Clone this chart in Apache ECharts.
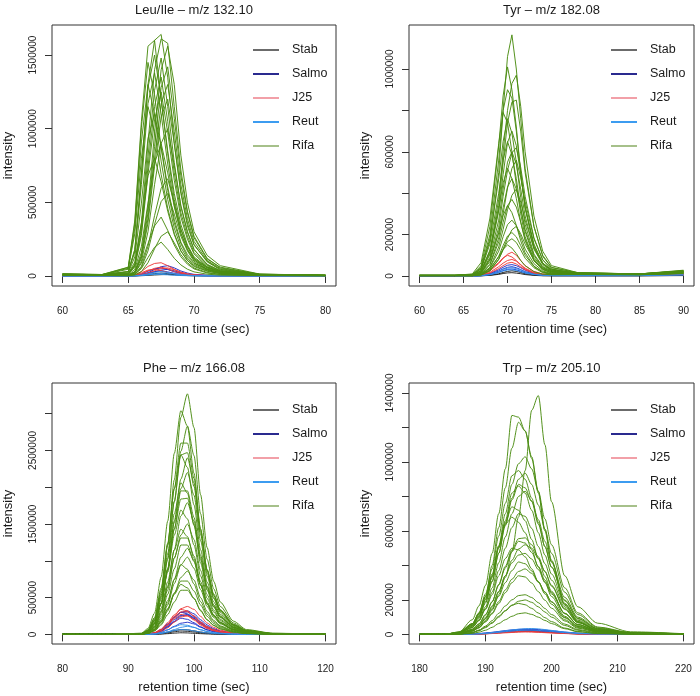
<!DOCTYPE html>
<html><head><meta charset="utf-8">
<script src="https://cdn.jsdelivr.net/npm/echarts@6/dist/echarts.min.js"></script>
<style>html,body{margin:0;padding:0;background:#fff}#chart{width:700px;height:696px}</style>
</head><body><div id="chart"></div>
<script>
// All intensity arrays are given in thousands of counts.
const UNIT = 1000;
const groupNames = ['Stab', 'Salmo', 'J25', 'Reut', 'Rifa'];

// ---------- Leu/Ile ----------
const leuTime = [60, 63, 65, 65.5, 66, 66.5, 67, 67.5, 68, 68.5, 69, 69.5, 70, 71, 72, 75, 80];
const leuXTicks = [60, 65, 70, 75, 80];
const leuYTicks = [0, 500000, 1000000, 1500000];
const leuYLabels = [0, 500000, 1000000, 1500000];
const leuStab = [
  [0,0,0,1,4,10,16,20,16,10,6,3,2,1,0,0,0],
  [0,0,0,0,2,4,7,9,10,8,5,3,2,1,0,0,0]
];
const leuSalmo = [
  [2,2,2,3,9,22,44,63,70,55,34,20,11,5,3,2,2],
  [2,2,2,4,14,32,48,55,44,28,17,9,5,3,2,2,2],
  [2,2,2,3,6,15,28,40,45,35,22,12,7,3,2,2,2],
  [2,2,2,3,9,20,30,35,28,18,11,6,4,2,2,2,2]
];
const leuJ25 = [
  [1,1,2,8,30,65,85,90,70,45,25,12,6,3,2,1,1],
  [1,1,1,4,15,35,52,60,48,30,18,10,5,2,1,1,1],
  [1,1,1,2,8,20,36,50,55,42,26,15,8,3,2,1,1],
  [1,1,2,6,22,40,45,36,24,15,9,5,3,2,1,1,1]
];
const leuReut = [
  [0,0,0,2,6,14,24,30,24,15,9,5,3,1,0,0,0],
  [0,0,0,1,3,7,13,18,20,15,9,5,3,1,0,0,0],
  [0,0,0,1,4,9,12,11,8,5,3,2,1,0,0,0,0]
];
const leuRifa = [
  [13,10,30,180,700,1300,1600,1640,1350,900,560,340,210,100,45,12,5],
  [13,10,60,380,1050,1560,1600,1200,850,560,350,210,130,60,30,10,5],
  [13,10,15,80,360,900,1400,1610,1580,1150,720,440,270,120,55,12,5],
  [12,9,8,30,160,470,970,1400,1560,1300,820,500,300,140,70,13,5],
  [12,9,58,360,1010,1450,1230,870,580,360,220,130,85,45,22,8,4],
  [12,9,30,180,680,1280,1500,1200,830,520,320,200,120,60,30,9,4],
  [12,9,15,75,330,810,1260,1480,1150,770,470,300,180,75,37,10,4],
  [11,8,7,28,140,430,880,1280,1420,1070,680,430,260,115,60,11,4],
  [11,8,28,165,620,1170,1380,1100,760,480,290,180,110,55,28,8,4],
  [11,8,14,68,300,740,1150,1350,1050,700,430,270,160,70,34,9,4],
  [10,7,46,290,800,1150,980,690,460,290,170,105,70,35,17,6,3],
  [10,7,6,26,130,390,800,1170,1300,980,620,390,235,105,50,10,4],
  [10,7,12,62,275,690,1060,1250,975,650,400,250,150,62,31,9,4],
  [9,7,22,130,495,935,1100,880,605,385,230,145,90,45,22,7,3],
  [9,6,5,20,100,300,620,900,1000,750,480,300,180,80,35,8,3],
  [8,6,9,45,200,495,765,900,700,470,290,180,110,45,23,7,3],
  [7,5,4,14,66,200,410,595,660,495,315,200,120,53,23,6,3],
  [6,5,3,11,56,170,350,505,560,420,270,170,100,45,20,5,2],
  [5,4,4,20,88,220,340,400,310,210,130,80,48,20,10,4,2],
  [5,4,2,6,30,90,185,270,300,225,145,90,54,24,11,3,2],
  [4,3,2,12,50,125,195,230,180,120,75,46,28,12,6,3,2],
  [8,6,16,96,360,680,800,640,440,280,170,105,64,32,16,5,3],
  [10,8,52,325,910,1300,1100,780,520,325,195,117,78,39,20,7,3],
  [10,7,6,24,120,360,745,1080,1200,900,575,360,215,96,42,10,4]
];

// ---------- Tyr ----------
const tyrTime = [60, 64, 66, 67, 68, 69, 69.5, 70, 70.5, 71, 71.5, 72, 73, 74, 75, 78, 85, 90];
const tyrXTicks = [60, 65, 70, 75, 80, 85, 90];
const tyrYTicks = [0, 200000, 400000, 600000, 800000, 1000000];
const tyrYLabels = [0, 200000, 600000, 1000000];
const tyrStab = [
  [0,0,0,1,4,11,17,22,25,22,17,11,5,2,1,1,1,3],
  [0,0,0,1,3,8,12,15,16,14,11,7,3,1,1,1,1,2]
];
const tyrSalmo = [
  [1,1,1,3,12,30,42,52,55,50,40,28,13,6,3,3,3,10],
  [1,1,1,2,9,24,34,42,45,40,31,21,10,4,3,3,3,9],
  [1,1,1,2,7,18,26,32,34,30,23,16,8,4,2,2,2,8]
];
const tyrJ25 = [
  [1,1,1,5,25,60,85,105,115,100,75,50,22,10,6,5,5,8],
  [1,1,1,6,28,65,88,100,92,75,52,34,15,7,5,5,5,8],
  [1,1,1,4,18,45,62,75,80,72,55,38,17,8,5,5,5,7],
  [1,1,1,3,14,36,50,62,66,58,44,30,13,6,4,4,4,7]
];
const tyrReut = [
  [0,0,0,2,8,22,32,38,40,36,28,19,9,4,2,2,2,6],
  [0,0,0,1,6,16,24,29,30,27,21,14,7,3,2,2,2,5]
];
const tyrRifa = [
  [3,3,6,35,170,500,800,1060,1165,1000,760,520,240,95,40,16,10,28],
  [3,3,8,50,240,630,870,1010,900,720,500,330,140,60,30,15,10,25],
  [3,3,5,25,120,370,600,800,930,970,820,600,290,120,50,16,10,26],
  [3,3,5,25,110,340,550,740,840,850,700,500,240,100,42,15,10,24],
  [3,3,10,65,280,640,790,740,600,440,300,190,80,36,22,13,9,22],
  [3,3,6,38,180,470,650,760,690,550,380,250,106,46,24,13,9,22],
  [3,3,4,21,105,315,490,645,700,630,490,335,155,63,28,12,9,21],
  [3,3,5,33,155,400,560,650,585,470,325,215,90,40,20,12,9,20],
  [3,3,3,18,90,270,420,550,600,540,420,290,130,55,24,12,8,20],
  [3,3,2,11,56,185,300,425,520,560,475,360,180,78,34,11,8,19],
  [2,2,4,26,125,320,450,520,470,375,260,170,73,31,16,11,8,18],
  [2,2,3,14,70,210,330,430,470,420,330,225,100,42,19,10,8,18],
  [2,2,2,8,42,140,225,320,390,420,357,270,135,60,25,10,8,17],
  [2,2,3,11,55,165,260,340,370,333,260,178,80,33,15,10,7,16],
  [2,2,3,17,82,210,292,340,306,245,170,112,48,20,10,9,7,15],
  [2,2,2,8,40,120,190,248,270,243,190,130,60,25,11,9,7,14],
  [2,2,1,5,24,80,130,182,223,240,204,154,77,34,14,9,7,14],
  [2,2,2,6,32,95,147,193,210,189,147,100,46,19,9,8,7,13],
  [2,2,2,5,27,81,126,166,180,162,126,86,40,16,8,8,6,13],
  [2,2,1,8,36,93,129,150,135,108,75,50,21,9,6,7,6,12],
  [3,3,7,42,200,560,800,900,860,700,500,330,145,62,30,14,10,24],
  [3,3,3,16,78,235,385,510,595,620,525,385,185,78,33,12,9,20]
];

// ---------- Phe ----------
const pheTime = [80, 88, 92, 93, 94, 95, 96, 97, 98, 99, 100, 101, 102, 103, 104, 106, 108, 112, 120];
const pheXTicks = [80, 90, 100, 110, 120];
const pheYTicks = [0, 500000, 1000000, 1500000, 2000000, 2500000, 3000000];
const pheYLabels = [0, 500000, 1500000, 2500000];
const pheStab = [
  [0,0,0,1,4,13,31,52,66,62,48,32,20,12,7,2,1,0,0],
  [0,0,0,1,2,9,21,36,46,42,33,22,14,8,5,2,1,0,0],
  [0,0,0,0,1,4,10,17,22,20,15,10,6,3,2,1,0,0,0]
];
const pheSalmo = [
  [0,0,1,3,18,55,130,230,300,320,280,200,128,78,47,17,5,2,0],
  [0,0,1,4,21,62,138,230,300,305,250,172,108,66,40,14,4,1,0],
  [0,0,1,4,22,65,144,240,300,280,220,145,90,55,33,11,3,1,0],
  [0,0,1,3,13,42,99,176,250,270,235,160,100,62,38,14,4,1,0],
  [0,0,1,3,15,46,103,172,220,205,158,104,64,40,24,8,2,1,0],
  [0,0,0,2,9,27,62,110,152,165,143,97,60,37,23,9,3,1,0],
  [0,0,1,3,17,50,115,200,260,262,215,148,92,56,34,12,4,1,0]
];
const pheJ25 = [
  [0,0,1,4,17,55,135,245,350,380,340,245,155,95,58,22,7,2,0],
  [0,0,1,5,24,72,160,265,340,320,248,163,100,62,38,12,4,1,0],
  [0,0,1,4,19,57,130,232,305,308,248,168,104,63,39,13,4,1,0],
  [0,0,1,4,20,57,128,212,272,254,196,128,79,49,30,10,3,1,0],
  [0,0,1,3,11,36,90,166,238,250,208,142,88,54,33,12,4,1,0]
];
const pheReut = [
  [0,0,0,2,9,28,62,103,132,124,96,62,38,23,14,4,1,0,0],
  [0,0,0,1,4,14,35,66,96,110,95,64,40,24,15,6,2,0,0],
  [0,0,0,1,4,14,31,52,66,62,48,31,19,12,7,2,1,0,0]
];
const pheRifa = [
  [0,0,10,50,200,560,1210,2100,2950,3270,2810,1900,1180,720,440,180,65,16,1],
  [0,0,16,80,290,780,1540,2460,3040,2830,2190,1430,880,550,335,137,49,12,1],
  [0,0,8,42,170,480,1040,1800,2490,2830,2430,1640,1020,620,380,155,57,14,1],
  [0,0,10,50,190,530,1100,1810,2440,2470,2010,1355,830,500,315,125,45,10,1],
  [0,0,13,63,230,630,1240,1980,2440,2270,1760,1150,710,440,270,110,39,10,1],
  [0,0,7,36,145,410,890,1540,2110,2400,2060,1390,865,530,325,132,48,12,1],
  [0,0,10,52,185,510,1020,1640,2060,1920,1480,970,600,370,227,93,33,8,1],
  [0,0,8,40,150,420,875,1430,1950,1950,1590,1075,655,400,250,100,36,8,1],
  [0,0,8,42,155,430,880,1430,1840,1850,1500,1015,620,376,235,94,34,8,1],
  [0,0,5,27,108,305,660,1150,1610,1790,1540,1040,645,395,242,98,36,9,1],
  [0,0,8,42,152,423,845,1350,1690,1570,1215,795,490,304,186,76,27,7,1],
  [0,0,6,31,114,320,645,1040,1310,1310,1065,720,440,266,166,67,24,5,0],
  [0,0,5,25,93,260,545,890,1215,1215,990,670,410,248,155,62,22,5,0],
  [0,0,4,18,70,200,430,750,1050,1170,1005,680,420,257,158,64,23,6,0],
  [0,0,5,22,82,228,460,745,950,885,685,445,275,170,105,43,15,4,0],
  [0,0,3,17,61,170,350,565,725,725,590,400,245,148,92,37,13,3,0],
  [0,0,3,17,61,170,340,545,680,632,490,320,197,122,75,31,11,3,0],
  [0,0,2,12,46,128,270,440,600,600,488,330,200,122,76,31,11,2,0],
  [0,0,11,58,215,600,1220,1980,2600,2600,2120,1430,875,530,330,132,48,11,1],
  [0,0,7,37,145,420,890,1520,1980,2200,1890,1275,790,485,297,121,44,11,1],
  [0,0,5,25,100,285,605,1035,1350,1500,1290,870,540,330,202,82,30,7,1],
  [0,0,3,16,65,185,400,690,945,1050,900,610,378,230,142,58,21,5,0],
  [0,0,7,36,129,358,715,1145,1430,1330,1030,670,415,257,157,64,23,6,0],
  [0,0,3,13,52,146,320,550,775,860,740,500,310,190,116,47,17,4,0]
];

// ---------- Trp ----------
const trpTime = [180, 184, 186, 188, 189, 190, 191, 192, 193, 194, 195, 196, 197, 198, 199, 200, 202, 204, 207, 212, 220];
const trpXTicks = [180, 190, 200, 210, 220];
const trpYTicks = [0, 200000, 400000, 600000, 800000, 1000000, 1200000, 1400000];
const trpYLabels = [0, 200000, 600000, 1000000, 1400000];
const trpStab = [
  [0,0,0,1,3,5,8,12,16,20,23,25,24,22,19,15,9,4,2,0,0],
  [0,0,0,1,2,4,6,9,12,14,16,17,17,15,13,11,6,3,1,0,0]
];
const trpSalmo = [
  [0,0,1,3,5,8,12,17,22,26,29,30,30,28,25,21,13,7,3,1,0],
  [0,0,1,2,4,7,10,14,18,22,25,26,26,24,21,18,11,6,2,1,0],
  [0,0,0,2,3,5,8,11,14,17,19,20,20,18,16,13,8,4,2,1,0]
];
const trpJ25 = [
  [0,0,0,1,2,4,6,9,12,15,17,18,17,15,13,10,6,3,1,0,0],
  [0,0,0,1,2,3,5,7,9,11,13,14,13,12,10,8,5,2,1,0,0]
];
const trpReut = [
  [0,0,1,2,4,7,11,16,21,26,30,33,34,32,28,23,14,7,3,1,0],
  [0,0,0,1,3,5,8,12,16,20,23,25,25,23,20,17,10,5,2,1,0]
];
const trpRifa = [
  [0,1,4,20,40,80,140,230,330,480,680,950,1300,1385,1100,770,340,160,65,15,4],
  [0,2,15,85,165,285,470,700,960,1270,1260,1180,1020,820,600,420,170,70,22,6,2],
  [0,2,12,60,120,220,400,620,850,1080,1230,1180,1030,830,610,430,180,75,25,7,2],
  [0,1,10,52,105,200,335,515,700,870,990,1030,960,830,670,520,270,125,43,11,3],
  [0,1,9,47,95,182,305,470,640,790,900,935,870,750,610,470,245,115,39,10,3],
  [0,2,10,50,100,190,310,470,630,780,870,850,770,640,510,390,200,93,32,9,3],
  [0,2,11,55,110,205,330,500,660,820,860,820,720,590,460,350,175,82,29,8,3],
  [0,1,8,42,85,160,270,415,565,700,800,830,775,665,540,420,215,100,35,9,3],
  [0,2,12,60,118,215,340,505,650,740,720,660,550,440,335,250,120,57,20,6,2],
  [0,2,12,62,122,222,350,510,640,680,650,590,490,390,300,220,105,50,18,5,2],
  [0,1,8,40,80,150,245,370,500,620,700,685,615,510,410,315,160,74,26,7,2],
  [0,1,6,29,59,112,188,290,395,490,555,560,520,450,365,280,145,67,23,6,2],
  [0,1,6,31,62,116,190,285,385,480,540,530,475,395,315,243,123,57,20,6,2],
  [0,1,4,24,48,92,157,245,340,430,495,520,500,440,365,285,150,70,24,6,2],
  [0,1,6,40,80,145,230,340,440,500,490,450,380,305,235,175,85,40,14,4,2],
  [0,1,5,26,52,99,165,250,340,415,460,470,437,376,305,235,122,56,20,5,2],
  [0,1,5,24,48,90,147,221,300,370,420,410,368,306,245,188,96,45,16,4,2],
  [0,1,4,19,39,74,124,190,258,320,365,380,354,303,246,190,99,46,16,4,1],
  [0,1,4,19,38,73,119,179,242,300,340,333,298,248,198,152,78,36,13,4,1],
  [0,1,2,12,25,48,80,122,165,200,225,230,214,184,150,115,60,28,10,3,1],
  [0,0,2,10,21,39,65,100,136,168,192,200,186,160,130,100,52,24,8,2,1],
  [0,0,2,11,23,43,69,105,138,170,180,172,151,124,97,74,37,17,6,2,1],
  [0,0,1,6,13,24,41,63,85,105,120,125,116,100,81,63,33,15,5,2,1],
  [0,2,13,62,125,235,380,570,760,920,950,900,790,650,510,390,195,90,32,9,3]
];

// ---------- panel assembly (data) ----------
const panels = [
  { title: 'Leu/Ile \u2013 m/z 132.10', time: leuTime, xTicks: leuXTicks, yTicks: leuYTicks, yLabels: leuYLabels,
    traces: { Stab: leuStab, Salmo: leuSalmo, J25: leuJ25, Reut: leuReut, Rifa: leuRifa } },
  { title: 'Tyr \u2013 m/z 182.08', time: tyrTime, xTicks: tyrXTicks, yTicks: tyrYTicks, yLabels: tyrYLabels,
    traces: { Stab: tyrStab, Salmo: tyrSalmo, J25: tyrJ25, Reut: tyrReut, Rifa: tyrRifa } },
  { title: 'Phe \u2013 m/z 166.08', time: pheTime, xTicks: pheXTicks, yTicks: pheYTicks, yLabels: pheYLabels,
    traces: { Stab: pheStab, Salmo: pheSalmo, J25: pheJ25, Reut: pheReut, Rifa: pheRifa } },
  { title: 'Trp \u2013 m/z 205.10', time: trpTime, xTicks: trpXTicks, yTicks: trpYTicks, yLabels: trpYLabels,
    traces: { Stab: trpStab, Salmo: trpSalmo, J25: trpJ25, Reut: trpReut, Rifa: trpRifa } }
];

// ---------- layout & style ----------
const layouts = [
  { left: 52, top: 25, width: 284, height: 261, xMin: 59.2, xMax: 80.8, yMin: -68000, yMax: 1704000,
    legendLeft: 253, legendTop: 43, titleX: 194, titleTop: 4, smooth: false },
  { left: 409, top: 25, width: 285, height: 261, xMin: 58.8, xMax: 91.2, yMin: -48300, yMax: 1212600,
    legendLeft: 611, legendTop: 43, titleX: 551.5, titleTop: 4, smooth: false },
  { left: 52, top: 383, width: 284, height: 261, xMin: 78.4, xMax: 121.6, yMin: -130500, yMax: 3417000,
    legendLeft: 253, legendTop: 403, titleX: 194, titleTop: 362, smooth: 0.25 },
  { left: 409, top: 383, width: 285, height: 261, xMin: 178.4, xMax: 221.6, yMin: -55700, yMax: 1458000,
    legendLeft: 611, legendTop: 403, titleX: 551.5, titleTop: 362, smooth: 0.3 }
];
const FONT = 'Liberation Sans, Arial, sans-serif';
const lineColors = { Stab: '#1c1c1c', Salmo: '#1f2fc8', J25: '#ee3b3b', Reut: '#2f8ee8', Rifa: '#4b8c12' };
const legendColors = { Stab: '#6b6b6b', Salmo: '#2a2a8f', J25: '#f2a0a8', Reut: '#3c9cf0', Rifa: '#a6c08a' };
const TXT = '#1a1a1a';

const option = {
  animation: false,
  backgroundColor: '#ffffff',
  title: [], grid: [], xAxis: [], yAxis: [], legend: [], series: []
};

panels.forEach((p, i) => {
  const L = layouts[i];
  option.title.push({
    text: p.title, left: L.titleX, top: L.titleTop, textAlign: 'center', padding: 0,
    textStyle: { fontSize: 13, fontWeight: 'normal', color: TXT, fontFamily: FONT }
  });
  option.grid.push({
    left: L.left, top: L.top, width: L.width, height: L.height,
    show: true, borderColor: '#333', borderWidth: 1, backgroundColor: 'transparent', containLabel: false
  });
  option.xAxis.push({
    type: 'value', gridIndex: i, min: L.xMin, max: L.xMax, position: 'bottom',
    name: 'retention time (sec)', nameLocation: 'middle', nameGap: 37,
    nameTextStyle: { fontSize: 13, color: TXT, fontFamily: FONT },
    axisLine: { show: false },
    axisTick: { show: true, inside: false, length: 7, customValues: p.xTicks, lineStyle: { color: '#333', width: 1 } },
    axisLabel: { show: true, customValues: p.xTicks, margin: 20, fontSize: 10, color: '#222', fontFamily: FONT,
      formatter: v => String(v) },
    splitLine: { show: false }
  });
  option.yAxis.push({
    type: 'value', gridIndex: i, min: L.yMin, max: L.yMax, position: 'left',
    name: 'intensity', nameLocation: 'middle', nameGap: 37,
    nameTextStyle: { fontSize: 13, color: TXT, fontFamily: FONT },
    axisLine: { show: false },
    axisTick: { show: true, inside: false, length: 7, customValues: p.yTicks, lineStyle: { color: '#333', width: 1 } },
    axisLabel: { show: true, customValues: p.yLabels, rotate: 90, margin: 14, fontSize: 10, color: '#222', fontFamily: FONT,
      formatter: v => String(v) },
    splitLine: { show: false }
  });
  option.legend.push({
    left: L.legendLeft, top: L.legendTop, orient: 'vertical', icon: 'rect',
    itemWidth: 26, itemHeight: 2, itemGap: 10, padding: 0, selectedMode: false,
    textStyle: { fontSize: 12.5, color: TXT, fontFamily: FONT, lineHeight: 14, padding: [0, 0, 0, 8] },
    data: groupNames.map(n => ({ name: n, icon: 'rect', itemStyle: { color: legendColors[n], borderWidth: 0 } }))
  });
  groupNames.forEach(g => {
    p.traces[g].forEach(vals => {
      option.series.push({
        type: 'line', name: g, xAxisIndex: i, yAxisIndex: i,
        data: p.time.map((t, k) => [t, vals[k] * UNIT]),
        showSymbol: false, symbol: 'none', silent: true,
        smooth: L.smooth, smoothMonotone: 'x',
        lineStyle: { width: 1, color: lineColors[g], opacity: 0.95 },
        itemStyle: { color: lineColors[g] },
        emphasis: { disabled: true }
      });
    });
  });
});

const chart = echarts.init(document.getElementById('chart'), null, { renderer: 'canvas' });
chart.setOption(option);
</script>
</body></html>
